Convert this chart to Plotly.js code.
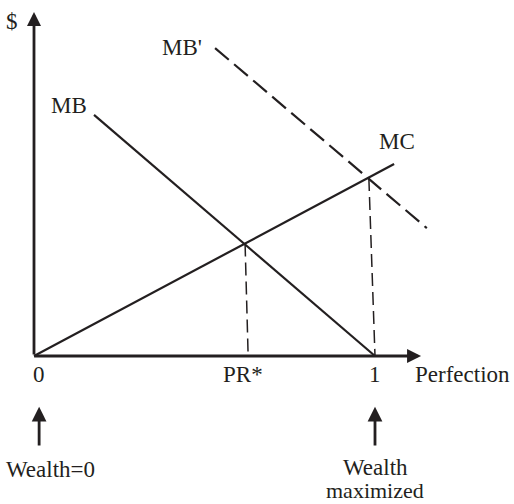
<!DOCTYPE html>
<html><head><meta charset="utf-8">
<script src="https://cdn.plot.ly/plotly-3.0.1.min.js"></script>
<style>html,body{margin:0;padding:0;background:#fff}</style>
</head><body>
<div id="chart" style="width:514px;height:504px"></div>
<script>
// Curves (x: perfection from 0 to 1, y: $ in arbitrary units)
const mcX = [0, 1.056];
const mcY = [0, 0.563];
const mbX = [0.176, 1.0];
const mbY = [0.707, 0];
const mbPrimeX = [0.531, 1.152];
const mbPrimeY = [0.903, 0.375];
// Dashed drop lines from intersections
const prDropX = [0.619, 0.628];
const prDropY = [0.330, 0];
const maxDropX = [0.982, 1.0];
const maxDropY = [0.522, 0];
// Tick labels on the perfection axis
const tickLabels = ["0", "PR*", "1"];
const tickPos = [0.015, 0.613, 1.0];
// Curve labels
const curveLabels = ["MB", "MB'", "MC"];
const curveLabelX = [0.103, 0.434, 1.065];
const curveLabelY = [0.736, 0.904, 0.630];
// Notes below the axis
const noteTexts = ["Wealth=0", "Wealth", "maximized"];
const noteX = [0.047, 1.0, 1.0];
const noteY = [-0.334, -0.328, -0.394];

const ink = '#231f20';
const font = {family: 'Liberation Serif, Times New Roman, serif', size: 23, color: ink};

const traces = [
  {x: mcX, y: mcY, mode: 'lines', line: {color: ink, width: 2.2}},
  {x: mbX, y: mbY, mode: 'lines', line: {color: ink, width: 2.2}},
  {x: mbPrimeX, y: mbPrimeY, mode: 'lines', line: {color: ink, width: 2.2, dash: '18px,7px'}},
  {x: prDropX, y: prDropY, mode: 'lines', line: {color: ink, width: 1.5, dash: '13px,6px'}},
  {x: maxDropX, y: maxDropY, mode: 'lines', line: {color: ink, width: 1.5, dash: '13px,6px'}}
];

const ann = [];
// axes with arrows
ann.push({x: 0, y: 1.009, ax: 0, ay: 0, xref: 'x', yref: 'y', axref: 'x', ayref: 'y',
  text: '', showarrow: true, arrowhead: 2, arrowsize: 1.0, arrowwidth: 2.8, arrowcolor: ink});
ann.push({x: 1.135, y: 0, ax: -0.004, ay: 0, xref: 'x', yref: 'y', axref: 'x', ayref: 'y',
  text: '', showarrow: true, arrowhead: 2, arrowsize: 1.0, arrowwidth: 2.8, arrowcolor: ink});
// up arrows under ticks
[0.015, 1.0].forEach(function (px) {
  ann.push({x: px, y: -0.149, ax: px, ay: -0.267, xref: 'x', yref: 'y', axref: 'x', ayref: 'y',
    text: '', showarrow: true, arrowhead: 2, arrowsize: 1.05, arrowwidth: 2.8, arrowcolor: ink});
});
// tick labels
tickLabels.forEach(function (t, i) {
  ann.push({x: tickPos[i], y: -0.055, xref: 'x', yref: 'y', text: t, showarrow: false, font: font});
});
ann.push({x: 1.258, y: -0.055, xref: 'x', yref: 'y', text: 'Perfection', showarrow: false, font: font});
ann.push({x: -0.064, y: 0.980, xref: 'x', yref: 'y', text: '$', showarrow: false, font: font});
curveLabels.forEach(function (t, i) {
  ann.push({x: curveLabelX[i], y: curveLabelY[i], xref: 'x', yref: 'y', text: t, showarrow: false, font: font});
});
noteTexts.forEach(function (t, i) {
  const f = i === 2 ? Object.assign({}, font, {size: 22}) : font;
  ann.push({x: noteX[i], y: noteY[i], xref: 'x', yref: 'y', text: t, showarrow: false, font: f});
});

const layout = {
  width: 514, height: 504,
  margin: {l: 0, r: 0, t: 0, b: 0},
  paper_bgcolor: '#fff', plot_bgcolor: '#fff',
  showlegend: false,
  xaxis: {range: [-34/341, 480/341], visible: false, fixedrange: true},
  yaxis: {range: [-148/341, 356/341], visible: false, fixedrange: true},
  annotations: ann
};

Plotly.newPlot('chart', traces, layout, {staticPlot: true, displayModeBar: false});
</script>
</body></html>
